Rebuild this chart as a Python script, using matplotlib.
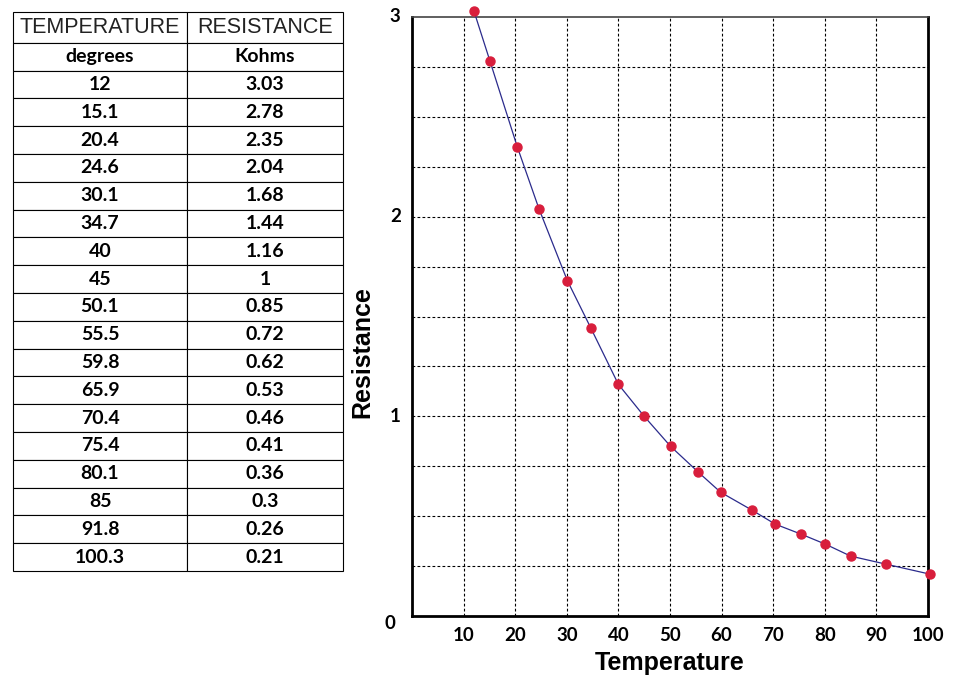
import matplotlib.pyplot as plt
import numpy as np

# table / chart data
temperature = [12, 15.1, 20.4, 24.6, 30.1, 34.7, 40, 45, 50.1, 55.5,
               59.8, 65.9, 70.4, 75.4, 80.1, 85, 91.8, 100.3]
resistance = [3.03, 2.78, 2.35, 2.04, 1.68, 1.44, 1.16, 1, 0.85, 0.72,
              0.62, 0.53, 0.46, 0.41, 0.36, 0.3, 0.26, 0.21]
temp_labels = ['12', '15.1', '20.4', '24.6', '30.1', '34.7', '40', '45', '50.1',
               '55.5', '59.8', '65.9', '70.4', '75.4', '80.1', '85', '91.8', '100.3']
res_labels = ['3.03', '2.78', '2.35', '2.04', '1.68', '1.44', '1.16', '1', '0.85',
              '0.72', '0.62', '0.53', '0.46', '0.41', '0.36', '0.3', '0.26', '0.21']
header = ['TEMPERATURE', 'RESISTANCE']
units = ['degrees', 'Kohms']
x_ticks = [10, 20, 30, 40, 50, 60, 70, 80, 90, 100]
y_ticks = [1, 2, 3]

fig = plt.figure(figsize=(9.66, 6.84), dpi=100)

# ---- table on the left ----
tax = fig.add_axes([13/966, 1 - 571/684, 330/966, 559/684])
tax.axis('off')
cells = [header, units] + [[t, r] for t, r in zip(temp_labels, res_labels)]
tbl = tax.table(cellText=cells, bbox=[0, 0, 1, 1], cellLoc='center',
                colWidths=[174/330, 156/330])
tbl.auto_set_font_size(False)
for (r, c), cell in tbl.get_celld().items():
    cell.set_linewidth(0.8)
    cell.set_edgecolor('black')
    txt = cell.get_text()
    if r == 0:
        txt.set_fontfamily('Liberation Sans')
        txt.set_fontsize(15.5)
        txt.set_color('#222222')
    else:
        txt.set_fontfamily('Lato')
        txt.set_fontweight('bold')
        txt.set_fontsize(14)
        txt.set_color('black')
for c in range(2):
    tbl[0, c].set_height(31)
    for r in range(1, len(cells)):
        tbl[r, c].set_height(28)

# ---- plot on the right ----
ax = fig.add_axes([412/966, 1 - 616/684, 516/966, 599/684])
ax.plot(temperature, resistance, color='#2b2b8c', linewidth=0.9,
        zorder=3, clip_on=False)
ax.plot(temperature, resistance, 'o', color='#d81e3c', markersize=6.5,
        zorder=4, clip_on=False)

ax.set_xlim(0, 100)
ax.set_ylim(0, 3)
ax.set_xticks(np.arange(10, 101, 10))
ax.set_yticks(np.arange(0.25, 3.0, 0.25))
ax.grid(True, color='black', linestyle=(0, (2.5, 2)), linewidth=0.8)
ax.set_xticklabels([str(v) for v in x_ticks], fontfamily='Lato',
                   fontweight='bold', fontsize=13.5)
ax.set_yticklabels([])
ax.tick_params(length=0, pad=8)
for v in y_ticks:
    ax.text(-2.2, v, str(v), ha='right', va='center', fontfamily='Lato',
            fontweight='bold', fontsize=13.5)
ax.text(-3.2, -0.04, '0', ha='right', va='center', fontfamily='Lato',
        fontweight='bold', fontsize=13.5)

for s in ['left', 'bottom', 'right']:
    ax.spines[s].set_linewidth(2)
ax.spines['top'].set_linewidth(1.2)
ax.spines['top'].set_color('#444444')

ax.set_xlabel('Temperature', fontfamily='Liberation Sans', fontweight='bold',
              fontsize=18)
ax.xaxis.set_label_coords(0.5, -0.058)
ax.set_ylabel('Resistance', fontfamily='Liberation Sans', fontweight='bold',
              fontsize=18)
ax.yaxis.set_label_coords(-0.072, 0.44)

fig.savefig('out.png', dpi=100)
